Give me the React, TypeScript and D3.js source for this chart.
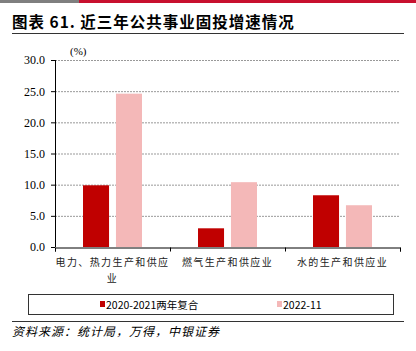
import React, { useRef, useEffect } from 'react';
import * as d3 from 'd3';

const categories = ['电力、热力生产和供应业', '燃气生产和供应业', '水的生产和供应业'];
const categoryLines = [['电力、热力生产和供应', '业'], ['燃气生产和供应业'], ['水的生产和供应业']];
const seriesNames = ['2020-2021两年复合', '2022-11'];
const series2020_2021 = [9.9, 3.0, 8.3];
const series2022_11 = [24.6, 10.4, 6.7];
const yTicks = [0, 5, 10, 15, 20, 25, 30];

const RED = '#c00000';
const PINK = '#f4b8b8';

const App = () => {
  const svgRef = useRef<SVGSVGElement>(null);

  useEffect(() => {
    const svg = d3.select(svgRef.current);
    svg.selectAll('*').remove();

    const width = 416;
    const plot = { left: 55, right: 400, top: 60, bottom: 247 };
    const cjk = '"Noto Sans CJK SC", sans-serif';
    const serif = '"Liberation Serif", "Times New Roman", serif';

    // top colour strip
    svg.append('rect').attr('x', 0).attr('y', 0).attr('width', 79).attr('height', 3).attr('fill', '#7f7f7f');
    svg.append('rect').attr('x', 79).attr('y', 0).attr('width', width - 79).attr('height', 3).attr('fill', '#c8102e');

    // title
    svg.append('text')
      .attr('x', 12).attr('y', 28)
      .attr('font-family', cjk).attr('font-weight', 'bold').attr('font-size', 15.5)
      .attr('letter-spacing', 1)
      .attr('fill', '#000')
      .text('图表 61. 近三年公共事业固投增速情况');
    svg.append('line').attr('x1', 12).attr('x2', 404).attr('y1', 33.5).attr('y2', 33.5)
      .attr('stroke', '#333').attr('stroke-width', 1);

    const x = d3.scaleBand().domain(categories).range([plot.left, plot.right]);
    const x1 = d3.scaleBand().domain(seriesNames).range([0, x.bandwidth()]).paddingInner(0.21).paddingOuter(0.85);
    const y = d3.scaleLinear().domain([0, 30]).range([plot.bottom, plot.top]);

    // grid
    svg.append('g').selectAll('line').data(yTicks.filter((t) => t > 0)).enter().append('line')
      .attr('x1', plot.left).attr('x2', plot.right)
      .attr('y1', (d) => y(d) + 0.5).attr('y2', (d) => y(d) + 0.5)
      .attr('stroke', '#999').attr('stroke-dasharray', '2,1').attr('stroke-width', 1);

    // bars
    const values = [series2020_2021, series2022_11];
    const colors = [RED, PINK];
    seriesNames.forEach((s, si) => {
      svg.append('g').selectAll('rect').data(values[si]).enter().append('rect')
        .attr('x', (d, i) => (x(categories[i]) as number) + (x1(s) as number))
        .attr('y', (d) => y(d))
        .attr('width', x1.bandwidth())
        .attr('height', (d) => plot.bottom - y(d))
        .attr('fill', colors[si]);
    });

    // y axis
    const yAxis = d3.axisLeft(y).tickValues(yTicks).tickFormat(d3.format('.1f')).tickSize(4).tickPadding(6);
    const gy = svg.append('g').attr('transform', `translate(${plot.left},0)`).call(yAxis);
    gy.selectAll('text').attr('font-family', serif).attr('font-size', 12).attr('fill', '#000');
    gy.selectAll('line, path').attr('stroke', '#000');
    gy.select('.domain').attr('d', `M0.5,${plot.top}V${plot.bottom}`);

    // x axis
    const xAxis = d3.axisBottom(d3.scaleLinear().domain([0, 3]).range([plot.left, plot.right]))
      .tickValues([0, 1, 2, 3]).tickSize(4).tickFormat(() => '');
    const gx = svg.append('g').attr('transform', `translate(0,${plot.bottom + 0.5})`).call(xAxis);
    gx.selectAll('line, path').attr('stroke', '#000');

    // category labels
    categories.forEach((c, i) => {
      const cx = (x(c) as number) + x.bandwidth() / 2;
      categoryLines[i].forEach((line, li) => {
        svg.append('text')
          .attr('x', cx).attr('y', 266 + li * 16)
          .attr('text-anchor', 'middle')
          .attr('font-family', cjk).attr('font-size', 10).attr('letter-spacing', 1.4)
          .attr('fill', '#222')
          .text(line);
      });
    });

    // (%) unit
    svg.append('text').attr('x', 70).attr('y', 55)
      .attr('font-family', serif).attr('font-size', 11).attr('fill', '#000').text('(%)');

    // legend
    svg.append('rect').attr('x', 28.5).attr('y', 294.5).attr('width', 365).attr('height', 20)
      .attr('fill', 'none').attr('stroke', '#333').attr('stroke-width', 1);
    const legendX = [100, 277];
    seriesNames.forEach((s, si) => {
      svg.append('rect').attr('x', legendX[si]).attr('y', 301).attr('width', 5).attr('height', 6).attr('fill', colors[si]);
      svg.append('text').attr('x', legendX[si] + 6).attr('y', 308.5)
        .attr('font-family', cjk).attr('font-size', 10.5).attr('fill', '#000').text(s);
    });

    svg.append('line').attr('x1', 12).attr('x2', 404).attr('y1', 321.5).attr('y2', 321.5)
      .attr('stroke', '#333').attr('stroke-width', 1);

    // source
    svg.append('text').attr('x', 12).attr('y', 336)
      .attr('font-family', cjk).attr('font-size', 12).attr('font-style', 'italic')
      .attr('letter-spacing', 1)
      .attr('fill', '#000').text('资料来源：统计局，万得，中银证券');
  }, []);

  return <svg ref={svgRef} width={416} height={351} style={{ position: 'absolute', left: 0, top: 0 }}></svg>;
};

export default App;
